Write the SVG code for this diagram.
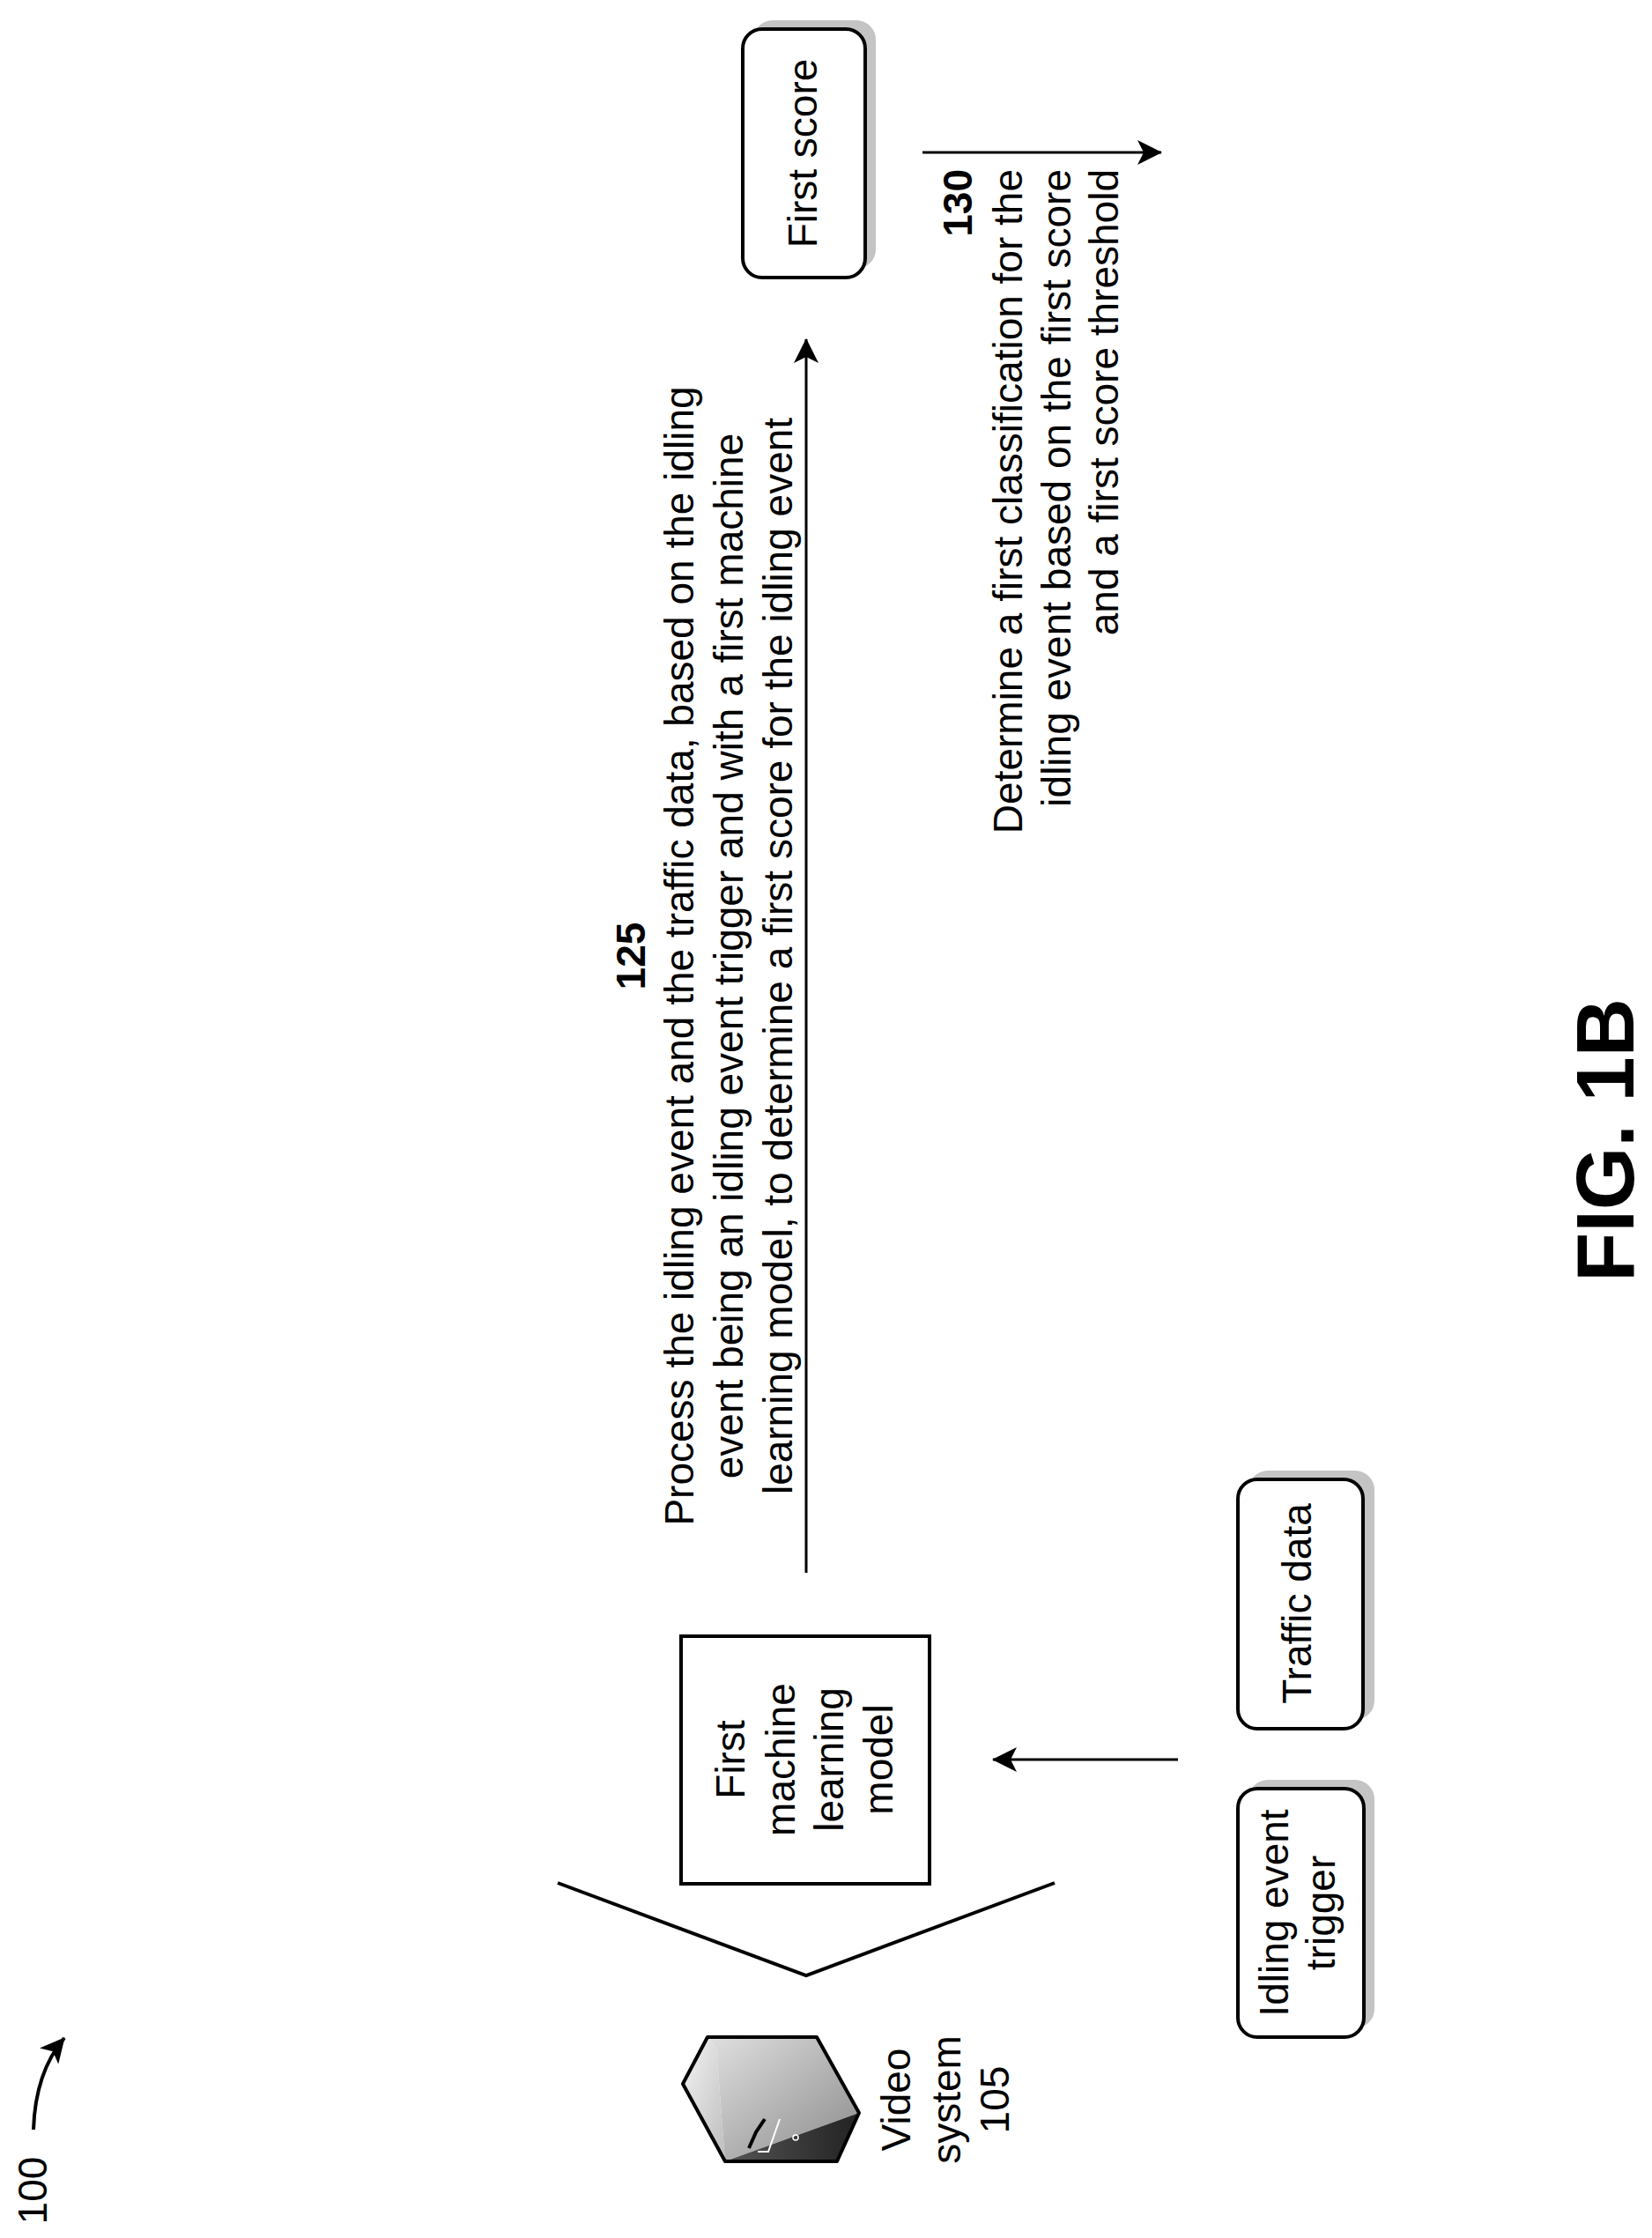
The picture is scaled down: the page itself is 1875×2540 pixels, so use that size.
<svg xmlns="http://www.w3.org/2000/svg" width="1875" height="2540" viewBox="0 0 1875 2540">
<style>
text{font-family:"Liberation Sans",Arial,sans-serif;font-size:46px;fill:#000;text-anchor:middle}
.b{font-weight:bold}
.e{text-anchor:end}
.box{fill:#fff;stroke:#000;stroke-width:4}
.sh{fill:#c4c4c4}
.ln{fill:none;stroke:#000;stroke-width:4}
</style>
<defs>
<marker id="ah" markerWidth="10" markerHeight="10" refX="9" refY="5" orient="auto" markerUnits="userSpaceOnUse" viewBox="0 0 10 10">
<path d="M0,0 L10,5 L0,10 L2.5,5 z" fill="#000"/>
</marker>
<marker id="am" markerWidth="28" markerHeight="28" refX="27" refY="14" orient="auto" markerUnits="userSpaceOnUse" viewBox="0 0 28 28">
<path d="M0,0 L28,14 L0,28 L7,14 z" fill="#000"/>
</marker>
<linearGradient id="g1" x1="0" y1="0" x2="1" y2="1"><stop offset="0" stop-color="#f4f4f4"/><stop offset="1" stop-color="#bdbdbd"/></linearGradient>
<linearGradient id="g2" x1="0" y1="0" x2="1" y2="1"><stop offset="0" stop-color="#e0e0e0"/><stop offset="1" stop-color="#8a8a8a"/></linearGradient>
<linearGradient id="g3" x1="0" y1="0" x2="1" y2="0"><stop offset="0" stop-color="#555"/><stop offset="1" stop-color="#222"/></linearGradient>
</defs>

<g id="label-100">
<text transform="translate(53,2486) rotate(-90)">100</text>
</g>

<g id="video-system">
<polygon points="803,2312 775,2365 823,2453 813,2325" fill="url(#g1)"/>
<polygon points="803,2312 927,2312 975,2398 823,2453 813,2325" fill="url(#g2)"/>
<polygon points="823,2453 975,2398 950,2453" fill="url(#g3)"/>
<path d="M868,2405 L858,2420 L850,2438" fill="none" stroke="#000" stroke-width="4"/>
<polyline points="885,2405 872,2442 860,2442" fill="none" stroke="#fff" stroke-width="2"/>
<circle cx="903" cy="2426" r="3" fill="none" stroke="#fff" stroke-width="1.5"/>
<polygon points="803,2312 927,2312 975,2398 950,2453 823,2453 775,2365" fill="none" stroke="#000" stroke-width="4" stroke-linejoin="round"/>
<text transform="translate(1033,2383) rotate(-90)">Video</text>
<text transform="translate(1090,2383) rotate(-90)">system</text>
<text transform="translate(1145,2383) rotate(-90)">105</text>
</g>

<g id="first-ml-model">
<rect class="box" x="773" y="1857" width="282" height="281"/>
<text transform="translate(845,1997) rotate(-90)">First</text>
<text transform="translate(902,1997) rotate(-90)">machine</text>
<text transform="translate(957,1997) rotate(-90)">learning</text>
<text transform="translate(1013,1997) rotate(-90)">model</text>
</g>

<g id="traffic-data">
<rect class="sh" x="1417" y="1669" width="143" height="283" rx="22"/>
<rect class="box" x="1405" y="1679" width="142" height="283" rx="22"/>
<text transform="translate(1488,1820) rotate(-90)">Traffic data</text>
</g>

<g id="idling-event-trigger">
<rect class="sh" x="1417" y="2020" width="143" height="282" rx="22"/>
<rect class="box" x="1405" y="2030" width="143" height="282" rx="22"/>
<text transform="translate(1462,2171) rotate(-90)">Idling event</text>
<text transform="translate(1515,2171) rotate(-90)">trigger</text>
</g>

<g id="first-score">
<rect class="sh" x="855" y="23" width="139" height="282" rx="22"/>
<rect class="box" x="843" y="33" width="139" height="282" rx="22"/>
<text transform="translate(927,174) rotate(-90)">First score</text>
</g>

<g id="step-125">
<text class="b" transform="translate(732,1085) rotate(-90)">125</text>
<text transform="translate(787,1085) rotate(-90)">Process the idling event and the traffic data, based on the idling</text>
<text transform="translate(843,1085) rotate(-90)">event being an idling event trigger and with a first machine</text>
<text transform="translate(899,1085) rotate(-90)">learning model, to determine a first score for the idling event</text>
</g>

<g id="step-130">
<text class="b e" transform="translate(1103,192) rotate(-90)">130</text>
<text class="e" transform="translate(1160,192) rotate(-90)">Determine a first classification for the</text>
<text class="e" transform="translate(1215,192) rotate(-90)">idling event based on the first score</text>
<text class="e" transform="translate(1269,192) rotate(-90)">and a first score threshold</text>
</g>

<g id="connectors">
<path class="ln" d="M38,2417 Q40,2352 73,2313" marker-end="url(#am)"/>
<polyline class="ln" points="633,2137 915,2242 1197,2137"/>
<line x1="1337" y1="1997" x2="1127" y2="1997" stroke="#000" stroke-width="3" marker-end="url(#am)"/>
<line x1="915" y1="1785" x2="915" y2="385" stroke="#000" stroke-width="3" marker-end="url(#am)"/>
<line x1="1047" y1="173" x2="1318" y2="173" stroke="#000" stroke-width="3" marker-end="url(#am)"/>
</g>

<g id="figure-label">
<text class="b" style="font-size:92px" transform="translate(1854,1294) rotate(-90)">FIG. 1B</text>
</g>
</svg>
